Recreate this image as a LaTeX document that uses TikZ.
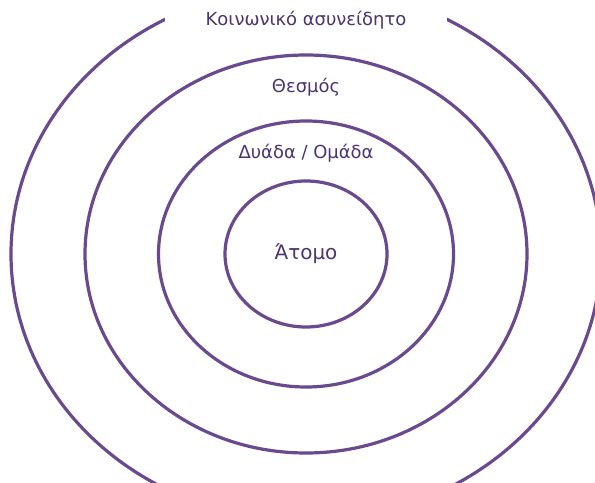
\documentclass[tikz,border=0pt]{standalone}
\usepackage{fontspec}
\setmainfont{DejaVu Sans}
\definecolor{ringline}{HTML}{6A4A8E}
\definecolor{ringtext}{HTML}{4B3470}

\begin{document}
\begin{tikzpicture}[x=1bp, y=-1bp,
    ring/.style={draw=ringline, line width=3.2bp},
    ringlabel/.style={text=ringtext, font=\fontsize{18}{21}\selectfont}]
  \useasboundingbox (0,0) rectangle (595,483);
  \clip (0,0) rectangle (595,483);
  \coordinate (center) at (306,254);

  % rings, outer to inner
  \foreach \rx/\ry in {295/267, 221/199, 147.5/133, 81/73}
    \draw[ring] (center) ellipse [x radius=\rx, y radius=\ry];

  \node[ringlabel, fill=white, minimum width=282bp, minimum height=56bp] (social) at (306,20) {Κοινωνικό ασυνείδητο};
  \node[ringlabel] (institution) at (306,87) {Θεσμός};
  \node[ringlabel] (group) at (306,153) {Δυάδα / Ομάδα};
  \node[ringlabel, font=\fontsize{20}{24}\selectfont] (self) at (center) {Άτομο};
\end{tikzpicture}
\end{document}
